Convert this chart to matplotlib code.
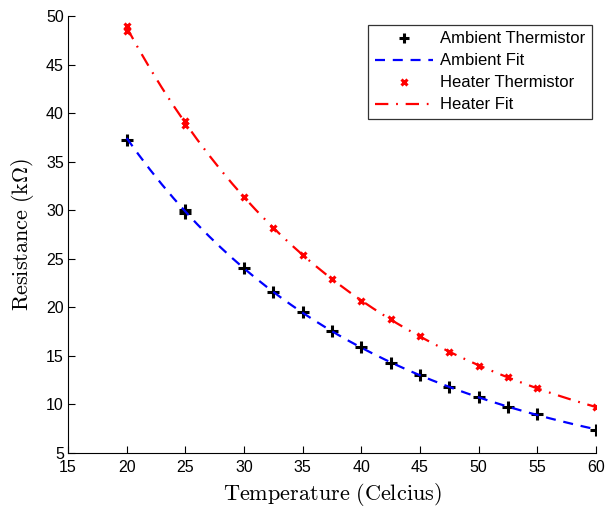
import numpy as np
import matplotlib
matplotlib.use("Agg")
import matplotlib.pyplot as plt

plt.rcParams['mathtext.fontset'] = 'cm'
plt.rcParams['font.family'] = ['Liberation Sans', 'DejaVu Sans']

# Measured thermistor resistances (kOhm) vs temperature (Celsius)
ambient_temp = [20, 25, 25, 30, 32.5, 35, 37.5, 40, 42.5, 45, 47.5, 50, 52.5, 55, 60]
ambient_res = [37.2, 30.0, 29.7, 24.0, 21.6, 19.5, 17.6, 15.95, 14.3, 13.0, 11.8, 10.8, 9.7, 9.0, 7.35]

heater_temp = [20, 20, 25, 25, 30, 32.5, 35, 37.5, 40, 42.5, 45, 47.5, 50, 52.5, 55, 60]
heater_res = [49.0, 48.5, 39.2, 38.8, 31.4, 28.2, 25.4, 22.9, 20.7, 18.8, 17.0, 15.4, 14.0, 12.8, 11.7, 9.7]

x_ticks = [15, 20, 25, 30, 35, 40, 45, 50, 55, 60]
y_ticks = [5, 10, 15, 20, 25, 30, 35, 40, 45, 50]


def beta_fit(temp_c, res):
    """Fit ln R = a + B/T (T in kelvin) and return evaluated curve."""
    t_k = np.asarray(temp_c) + 273.15
    B, a = np.polyfit(1.0 / t_k, np.log(res), 1)
    grid = np.linspace(min(temp_c), max(temp_c), 41)
    return grid, np.exp(a + B / (grid + 273.15))


amb_x, amb_y = beta_fit(ambient_temp, ambient_res)
heat_x, heat_y = beta_fit(heater_temp, heater_res)

fig = plt.figure(figsize=(6.1, 5.07), dpi=100)
ax = fig.add_axes([0.1115, 0.1065, 0.8655, 0.862])

ax.plot(ambient_temp, ambient_res, linestyle='none', marker='+', color='black',
        markersize=9, markeredgewidth=2.2, label='Ambient Thermistor')
ax.plot(amb_x, amb_y, linestyle=(0, (4.5, 3.5)), color='blue', linewidth=1.6,
        label='Ambient Fit')
ax.plot(heater_temp, heater_res, linestyle='none', marker='x', color='red',
        markersize=5, markeredgewidth=2.2, label='Heater Thermistor')
ax.plot(heat_x, heat_y, linestyle=(0, (6, 3.5, 0.8, 3.5)), color='red', linewidth=1.6,
        label='Heater Fit')

ax.set_xlim(15, 60)
ax.set_ylim(5, 50)
ax.set_xticks(x_ticks)
ax.set_yticks(y_ticks)
ax.tick_params(direction='in', length=5, width=0.8, labelsize=11.5, pad=3)
ax.tick_params(axis='x', pad=5)
for side in ('top', 'right'):
    ax.spines[side].set_visible(False)
for side in ('left', 'bottom'):
    ax.spines[side].set_linewidth(0.8)

ax.set_xlabel(r'$\mathrm{Temperature\ (Celcius)}$', fontsize=16, labelpad=4)
ax.set_ylabel(r'$\mathrm{Resistance\ (k\Omega)}$', fontsize=16, labelpad=7)

leg = ax.legend(loc='upper right', fontsize=12, frameon=True, fancybox=False,
                edgecolor='black', handlelength=3.5, handletextpad=0.45,
                borderpad=0.4, labelspacing=0.42, markerscale=0.8,
                bbox_to_anchor=(0.993, 0.98), borderaxespad=0)
leg.get_frame().set_linewidth(0.9)

fig.savefig('out.png', dpi=100)
